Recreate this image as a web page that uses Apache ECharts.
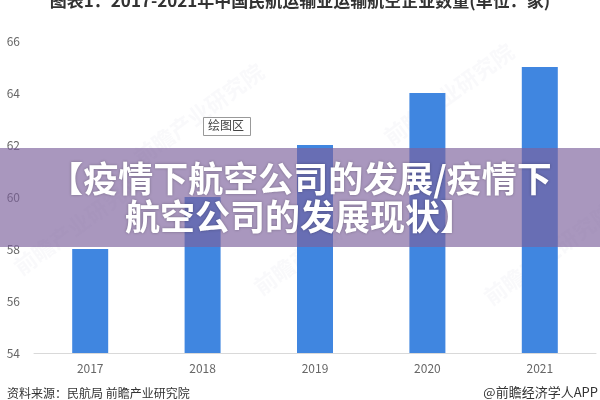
<!DOCTYPE html>
<html><head><meta charset="utf-8">
<script src="https://cdn.jsdelivr.net/npm/echarts@6/dist/echarts.min.js"></script>
<style>html,body{margin:0;padding:0;background:#fff}#c{width:600px;height:400px}</style>
</head><body><div id="c"></div>
<script>
const categories = ['2017','2018','2019','2020','2021'];
const values = [58, 60, 62, 64, 65];
const yTicks = [54, 56, 58, 60, 62, 64, 66];
const titleText = '图表1：2017-2021年中国民航运输业运输航空企业数量(单位：家)';
const overlayLines = ['【疫情下航空公司的发展/疫情下', '航空公司的发展现状】'];
const sourceText = '资料来源：民航局 前瞻产业研究院';
const brandText = '@前瞻经济学人APP';
const plotLabel = '绘图区';

const font = '"Microsoft YaHei","Noto Sans CJK SC",sans-serif';
const chart = echarts.init(document.getElementById('c'), null, {renderer:'canvas'});
const wm = (x,y)=>({type:'text', left:x, top:y, rotation:Math.PI/5, z:0,
  style:{text:'前瞻产业研究院', font:'bold 22px '+font, fill:'rgba(215,220,228,0.16)'}});
chart.setOption({
  animation:false,
  grid:{left:34, right:4, top:41, bottom:47},
  xAxis:{type:'category', data:categories,
    axisLine:{lineStyle:{color:'#d9d9d9'}}, axisTick:{show:false},
    axisLabel:{color:'#666', fontSize:12, margin:9, fontFamily:font}},
  yAxis:{type:'value', min:yTicks[0], max:yTicks[yTicks.length-1], interval:2,
    axisLine:{show:false}, axisTick:{show:false}, splitLine:{show:false},
    axisLabel:{color:'#666', fontSize:12, margin:14, fontFamily:font}},
  series:[{type:'bar', data:values, barWidth:36, itemStyle:{color:'#4086E0'}, z:2}],
  graphic:[
    wm(130,60), wm(380,40), wm(10,170), wm(250,190), wm(480,200),
    {type:'text', left:'center', top:-8, z:10,
      style:{text:titleText, font:'bold 17px '+font, fill:'#333'}},
    {type:'rect', left:203, top:117, z:10, shape:{width:47, height:18},
      style:{fill:'#fff', stroke:'#999', lineWidth:1}},
    {type:'text', left:208, top:119, z:11, style:{text:plotLabel, font:'12px '+font, fill:'#444'}},
    {type:'rect', left:0, top:148, z:20, shape:{width:600, height:99},
      style:{fill:'rgba(124,97,157,0.66)'}},
    {type:'text', left:'center', top:161, z:21,
      style:{text:overlayLines[0], font:'bold 35px '+font, fill:'#fff',
        textShadowColor:'rgba(0,0,0,0.3)', textShadowBlur:3}},
    {type:'text', left:'center', top:199, z:21,
      style:{text:overlayLines[1], font:'bold 35px '+font, fill:'#fff',
        textShadowColor:'rgba(0,0,0,0.3)', textShadowBlur:3}},
    {type:'text', left:7, top:387, z:10, style:{text:sourceText, font:'12px '+font, fill:'#333'}},
    {type:'text', right:2, top:386, z:10, style:{text:brandText, font:'13px '+font, fill:'#333'}}
  ]
});
</script></body></html>
